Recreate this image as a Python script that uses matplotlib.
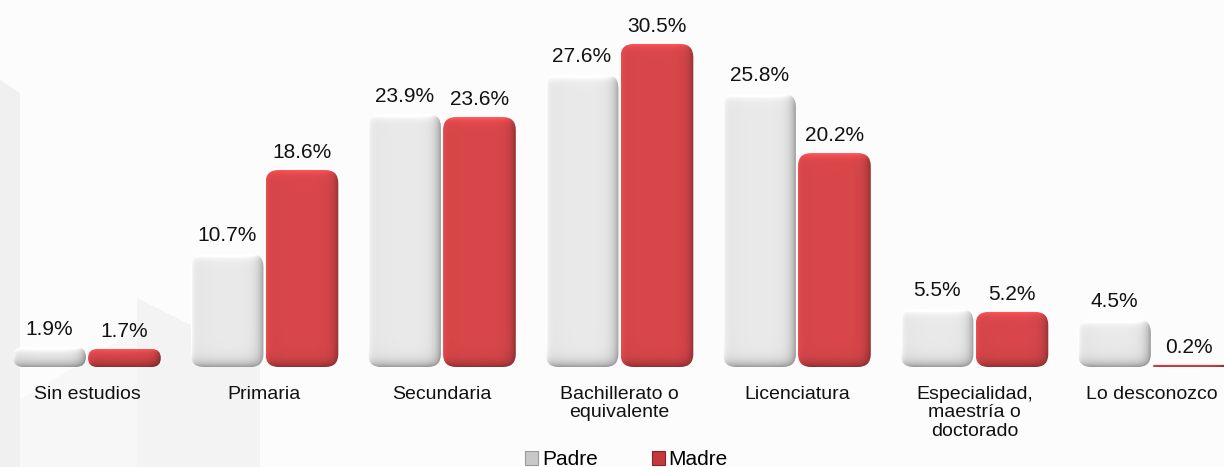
import numpy as np
import matplotlib
matplotlib.use("Agg")
import matplotlib.pyplot as plt
from matplotlib.patches import FancyBboxPatch, Polygon, Patch

plt.rcParams['font.family'] = ['Liberation Sans', 'DejaVu Sans']

categorias = ['Sin estudios', 'Primaria', 'Secundaria', 'Bachillerato o\nequivalente',
              'Licenciatura', 'Especialidad,\nmaestría o\ndoctorado', 'Lo desconozco']
padre = [1.9, 10.7, 23.9, 27.6, 25.8, 5.5, 4.5]
madre = [1.7, 18.6, 23.6, 30.5, 20.2, 5.2, 0.2]
series = ['Padre', 'Madre']

W, H = 1224, 467
fig = plt.figure(figsize=(W / 100, H / 100), dpi=100)
fig.patch.set_facecolor('#fcfcfc')

# faint decorative background shapes
fondo = [
    ([(0, 80), (20, 93), (20, 467), (0, 467)], '#f0f0f0'),
    ([(20, 400), (137, 330), (137, 467), (20, 467)], '#f7f7f7'),
    ([(137, 298), (260, 360), (260, 467), (137, 467)], '#f3f3f3'),
]
for pts, c in fondo:
    fig.patches.append(Polygon([(x / W, 1 - y / H) for x, y in pts], closed=True,
                               transform=fig.transFigure, fc=c, ec='none', zorder=-10))

ax = fig.add_axes([0, 100 / H, 1, 367 / H])
ax.set_facecolor('none')
ax.set_zorder(1)
xmin, xmax = -0.49, 6.406
ymax = 34.65
px_x = (xmax - xmin) / W
px_y = ymax / 367

width = 0.41
gap = 0.012
colores = {'Padre': np.array([234, 234, 234]) / 255, 'Madre': np.array([217, 71, 74]) / 255}


def bar3d(x0, h, base):
    wpx = int(round(width / px_x))
    hpx = max(int(round(h / px_y)), 2)
    r = min(13, hpx / 2, wpx / 2)
    patch = FancyBboxPatch((x0, 0), width, h,
                           boxstyle=f"round,pad=0,rounding_size={r * px_x}",
                           mutation_aspect=px_y / px_x, fc='none', ec='none', zorder=2)
    ax.add_patch(patch)
    xx = np.arange(wpx) + 0.5
    yy = np.arange(hpx) + 0.5
    dl = xx[None, :]
    dr = wpx - xx[None, :]
    dt = yy[:, None]
    db = hpx - yy[:, None]
    shade = (1 - 0.35 * np.exp(-dr / 5) - 0.35 * np.exp(-db / 5)
             + 0.3 * np.exp(-dt / 3) + 0.12 * np.exp(-dl / 4)
             - 0.08 * np.exp(-dl / 8) * (1 - np.exp(-dl / 2)))
    img = np.clip(base[None, None, :] * shade[:, :, None], 0, 1)
    im = ax.imshow(img, extent=(x0, x0 + width, 0, h), aspect='auto',
                   interpolation='bilinear', zorder=2)
    im.set_clip_path(patch)


for i in range(len(categorias)):
    for j, (name, vals) in enumerate(zip(series, [padre, madre])):
        x0 = i - gap / 2 - width if j == 0 else i + gap / 2
        bar3d(x0, vals[i], colores[name])
        ax.annotate(f"{vals[i]}%", (x0 + width / 2, vals[i]), xytext=(0, 6),
                    textcoords='offset points', ha='center', va='bottom',
                    fontsize=15, color='#111111')
    ax.annotate(categorias[i], (i, 0), xytext=(0, -13.5), textcoords='offset points',
                ha='center', va='top', fontsize=14, linespacing=1.13, color='#111111',
                annotation_clip=False)

ax.set_xlim(xmin, xmax)
ax.set_ylim(0, ymax)
ax.axis('off')

handles = [Patch(fc='#c8c8c8', ec='#9a9a9a', lw=0.8, label='Padre'),
           Patch(fc='#c5383d', ec='#8a2226', lw=0.8, label='Madre')]
fig.legend(handles=handles, loc='lower center', bbox_to_anchor=(0.512, -0.045), ncol=2,
           frameon=False, fontsize=15, handlelength=0.6, handleheight=0.6,
           handletextpad=0.2, columnspacing=2.6)

fig.savefig('out.png', dpi=100, facecolor=fig.get_facecolor())
